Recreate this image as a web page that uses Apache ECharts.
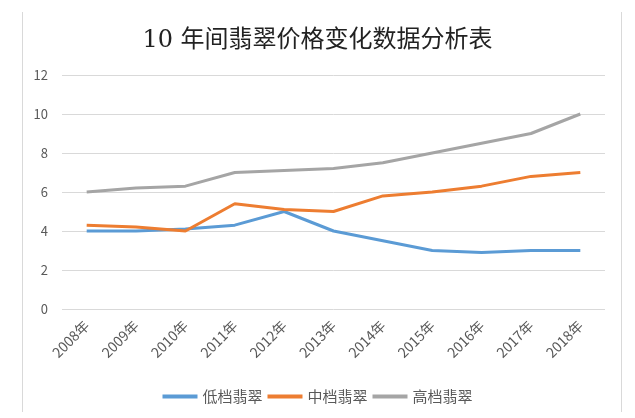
<!DOCTYPE html>
<html>
<head>
<meta charset="utf-8">
<script src="https://cdn.jsdelivr.net/npm/echarts@6/dist/echarts.min.js"></script>
<style>
  html, body { margin: 0; padding: 0; background: #fff; }
  #main { width: 635px; height: 418px; }
</style>
</head>
<body>
<div id="main"></div>
<script>
const years = ['2008年', '2009年', '2010年', '2011年', '2012年', '2013年', '2014年', '2015年', '2016年', '2017年', '2018年'];
const lowJade = [4.0, 4.0, 4.1, 4.3, 5.0, 4.0, 3.5, 3.0, 2.9, 3.0, 3.0];
const midJade = [4.3, 4.2, 4.0, 5.4, 5.1, 5.0, 5.8, 6.0, 6.3, 6.8, 7.0];
const highJade = [6.0, 6.2, 6.3, 7.0, 7.1, 7.2, 7.5, 8.0, 8.5, 9.0, 10.0];
const seriesNames = ['低档翡翠', '中档翡翠', '高档翡翠'];

const chart = echarts.init(document.getElementById('main'));

const makeLine = (name, data, color) => ({
  name: name,
  type: 'line',
  data: data,
  symbol: 'none',
  smooth: false,
  lineStyle: { width: 3, color: color },
  itemStyle: { color: color }
});

const option = {
  backgroundColor: '#ffffff',
  animation: false,
  textStyle: { fontFamily: '"Noto Sans CJK SC", sans-serif' },
  title: {
    text: '10 年间翡翠价格变化数据分析表',
    left: 'center',
    top: 24,
    textStyle: {
      fontFamily: '"DejaVu Serif", "Noto Sans CJK SC", serif',
      fontSize: 24,
      fontWeight: 'normal',
      color: '#222'
    }
  },
  legend: {
    data: seriesNames,
    top: 384,
    left: 'center',
    itemWidth: 35,
    itemHeight: 4,
    itemGap: 5,
    icon: 'rect',
    textStyle: { fontSize: 15, color: '#595959' }
  },
  grid: {
    left: 62,
    right: 30,
    top: 75,
    bottom: 109
  },
  xAxis: {
    type: 'category',
    data: years,
    boundaryGap: true,
    axisLine: { show: false },
    axisTick: { show: false },
    axisLabel: {
      rotate: 45,
      margin: 14,
      fontSize: 14,
      color: '#595959',
      interval: 0
    }
  },
  yAxis: {
    type: 'value',
    min: 0,
    max: 12,
    interval: 2,
    axisLine: { show: false },
    axisTick: { show: false },
    axisLabel: { fontSize: 13, color: '#595959', margin: 14 },
    splitLine: { lineStyle: { color: '#d9d9d9', width: 1 } }
  },
  graphic: [
    { type: 'line', shape: { x1: 22.5, y1: 12, x2: 22.5, y2: 412 }, style: { stroke: '#d9d9d9', lineWidth: 1 } },
    { type: 'line', shape: { x1: 621.5, y1: 12, x2: 621.5, y2: 412 }, style: { stroke: '#d9d9d9', lineWidth: 1 } }
  ],
  series: [
    makeLine(seriesNames[0], lowJade, '#5b9bd5'),
    makeLine(seriesNames[1], midJade, '#ed7d31'),
    makeLine(seriesNames[2], highJade, '#a5a5a5')
  ]
};

chart.setOption(option);
</script>
</body>
</html>
